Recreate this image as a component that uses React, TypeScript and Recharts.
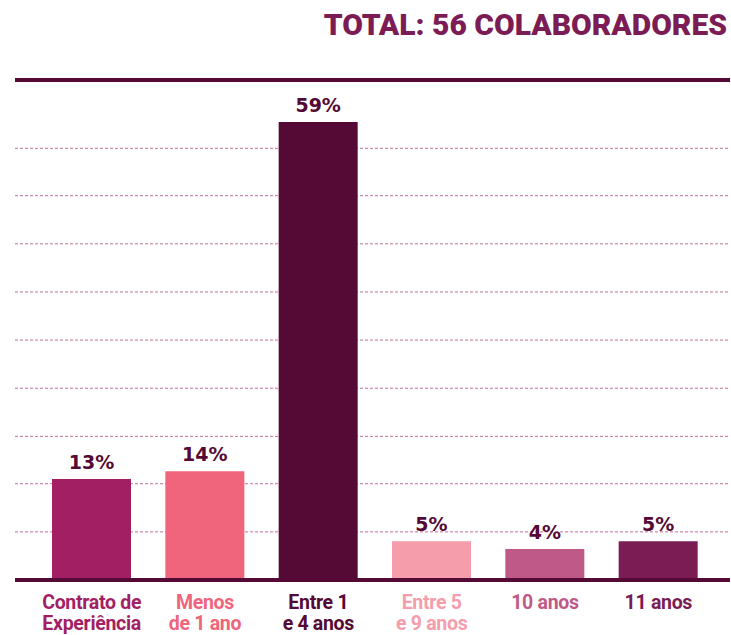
import { BarChart, Bar, XAxis, YAxis, CartesianGrid, Cell, LabelList, ReferenceLine } from "recharts";

const categories = ["Contrato de|Experiência", "Menos|de 1 ano", "Entre 1|e 4 anos", "Entre 5|e 9 anos", "10 anos", "11 anos"];
const values = [13, 14, 59, 5, 4, 5];
const barColors = ["#a31f63", "#f0647c", "#550a35", "#f59dab", "#bf5a88", "#7b1c55"];
const gridTicks = [6.2, 12.4, 18.5, 24.7, 30.9, 37.1, 43.3, 49.5, 55.6];
const yMax = 64.4;

const data = categories.map((name, i) => ({ name, value: values[i] }));

const DARK = "#550a35";

// eslint-disable-next-line @typescript-eslint/no-explicit-any
function CategoryTick(props: any) {
  const { x, y, payload, index } = props;
  const lines = String(payload.value).split("|");
  return (
    <g>
      {lines.map((line, i) => (
        <text
          key={i}
          x={x}
          y={y + 21 + i * 20.5}
          textAnchor="middle"
          fill={barColors[index]}
          fontFamily="Roboto, sans-serif"
          fontWeight="bold"
          fontSize={19.5}
          letterSpacing={-0.3}
        >
          {line}
        </text>
      ))}
    </g>
  );
}

export default function App() {
  return (
    <div style={{ position: "absolute", left: 0, top: 0, width: 731, height: 635, background: "#fff" }}>
      <div
        style={{
          position: "absolute",
          right: 4,
          top: 7,
          fontFamily: "Roboto, sans-serif",
          fontWeight: 900,
          fontSize: 30,
          lineHeight: "36px",
          color: "#7b1c55",
          whiteSpace: "nowrap",
        }}
      >
        TOTAL: 56 COLABORADORES
      </div>
      <BarChart
        width={731}
        height={635}
        data={data}
        margin={{ top: 80, right: 1, left: 15, bottom: 0 }}
        barSize={79}
      >
        <CartesianGrid horizontal vertical={false} stroke="#c0709a" strokeDasharray="3 2" />
        <YAxis hide domain={[0, yMax]} ticks={gridTicks} />
        <XAxis
          dataKey="name"
          height={55}
          padding={{ left: 20, right: 15 }}
          axisLine={{ stroke: DARK, strokeWidth: 4 }}
          tickLine={false}
          tick={<CategoryTick />}
          interval={0}
        />
        <ReferenceLine y={yMax} stroke={DARK} strokeWidth={4} />
        <Bar dataKey="value" isAnimationActive={false}>
          {data.map((d, i) => (
            <Cell key={d.name} fill={barColors[i]} />
          ))}
          <LabelList
            dataKey="value"
            position="top"
            offset={10}
            formatter={(v: number) => `${v}%`}
            fill={DARK}
            fontFamily="'DejaVu Sans', sans-serif"
            fontWeight="bold"
            fontSize={19}
          />
        </Bar>
      </BarChart>
    </div>
  );
}
